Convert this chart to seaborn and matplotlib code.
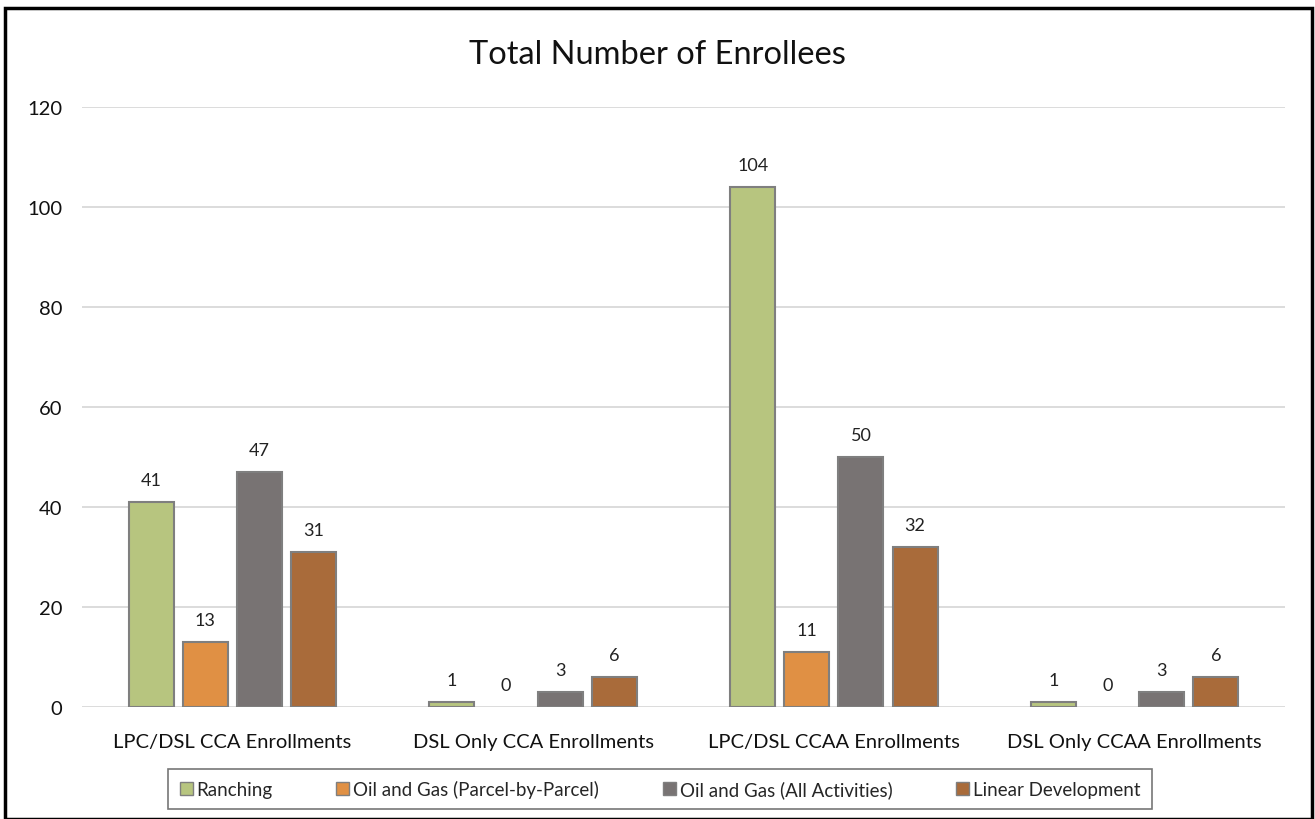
import matplotlib.pyplot as plt
import matplotlib.patches as mpatches
import pandas as pd
import seaborn as sns

categories = ["LPC/DSL CCA Enrollments", "DSL Only CCA Enrollments",
              "LPC/DSL CCAA Enrollments", "DSL Only CCAA Enrollments"]
series = ["Ranching", "Oil and Gas (Parcel-by-Parcel)",
          "Oil and Gas (All Activities)", "Linear Development"]
ranching = [41, 1, 104, 1]
oil_gas_parcel = [13, 0, 11, 0]
oil_gas_all = [47, 3, 50, 3]
linear_dev = [31, 6, 32, 6]
colors = ["#b7c57f", "#e09044", "#787373", "#a96b3a"]

values = [ranching, oil_gas_parcel, oil_gas_all, linear_dev]
df = pd.DataFrame([
    {"category": c, "series": s, "value": v[i]}
    for s, v in zip(series, values)
    for i, c in enumerate(categories)
])

sns.set_style("white")
plt.rcParams["font.family"] = ["Lato", "DejaVu Sans"]

fig = plt.figure(figsize=(13.15, 8.2), dpi=100)
ax = fig.add_axes([82 / 1315, 1 - 708 / 820, 1203 / 1315, 600 / 820])

sns.barplot(data=df, x="category", y="value", hue="series", order=categories,
            hue_order=series, palette=colors, saturation=1, width=0.72,
            gap=0.17, edgecolor="#7f7f7f", linewidth=1.5, legend=False, ax=ax)

# zero-height bars show nothing in the original
for p in ax.patches:
    if p.get_height() == 0:
        p.set_linewidth(0)

for cont in ax.containers:
    ax.bar_label(cont, padding=10, fontsize=13, color="#222222")

ax.set_ylim(0, 120)
ax.set_yticks(range(0, 121, 20))
ax.yaxis.grid(True, color="#d9d9d9", linewidth=1.3)
ax.set_axisbelow(True)
for sp in ax.spines.values():
    sp.set_visible(False)
ax.set_xlabel("")
ax.set_ylabel("")
ax.tick_params(axis="both", length=0, labelsize=14.5, colors="#111111")
ax.tick_params(axis="y", pad=14)
ax.tick_params(axis="x", pad=19)

fig.text(0.5, 1 - 55 / 820, "Total Number of Enrollees", ha="center",
         va="center", fontsize=23.5, color="#111111")

handles = [mpatches.Patch(facecolor=c, edgecolor="#7f7f7f", label=s)
           for c, s in zip(colors, series)]
leg = fig.legend(handles=handles, loc="center", ncol=4,
                 bbox_to_anchor=(660 / 1315, 1 - 790 / 820), fontsize=13.5,
                 frameon=True, fancybox=False, handlelength=0.7,
                 handleheight=0.7, handletextpad=0.2, columnspacing=3.4,
                 borderpad=0.6, borderaxespad=0)
leg.get_frame().set_edgecolor("#555555")
leg.get_frame().set_linewidth(1.2)

fig.patches.append(mpatches.Rectangle((5 / 1315, 0), 1307 / 1315, 1 - 9 / 820,
                                      transform=fig.transFigure, fill=False,
                                      edgecolor="black", linewidth=2.5))

fig.savefig("out.png", dpi=100)
